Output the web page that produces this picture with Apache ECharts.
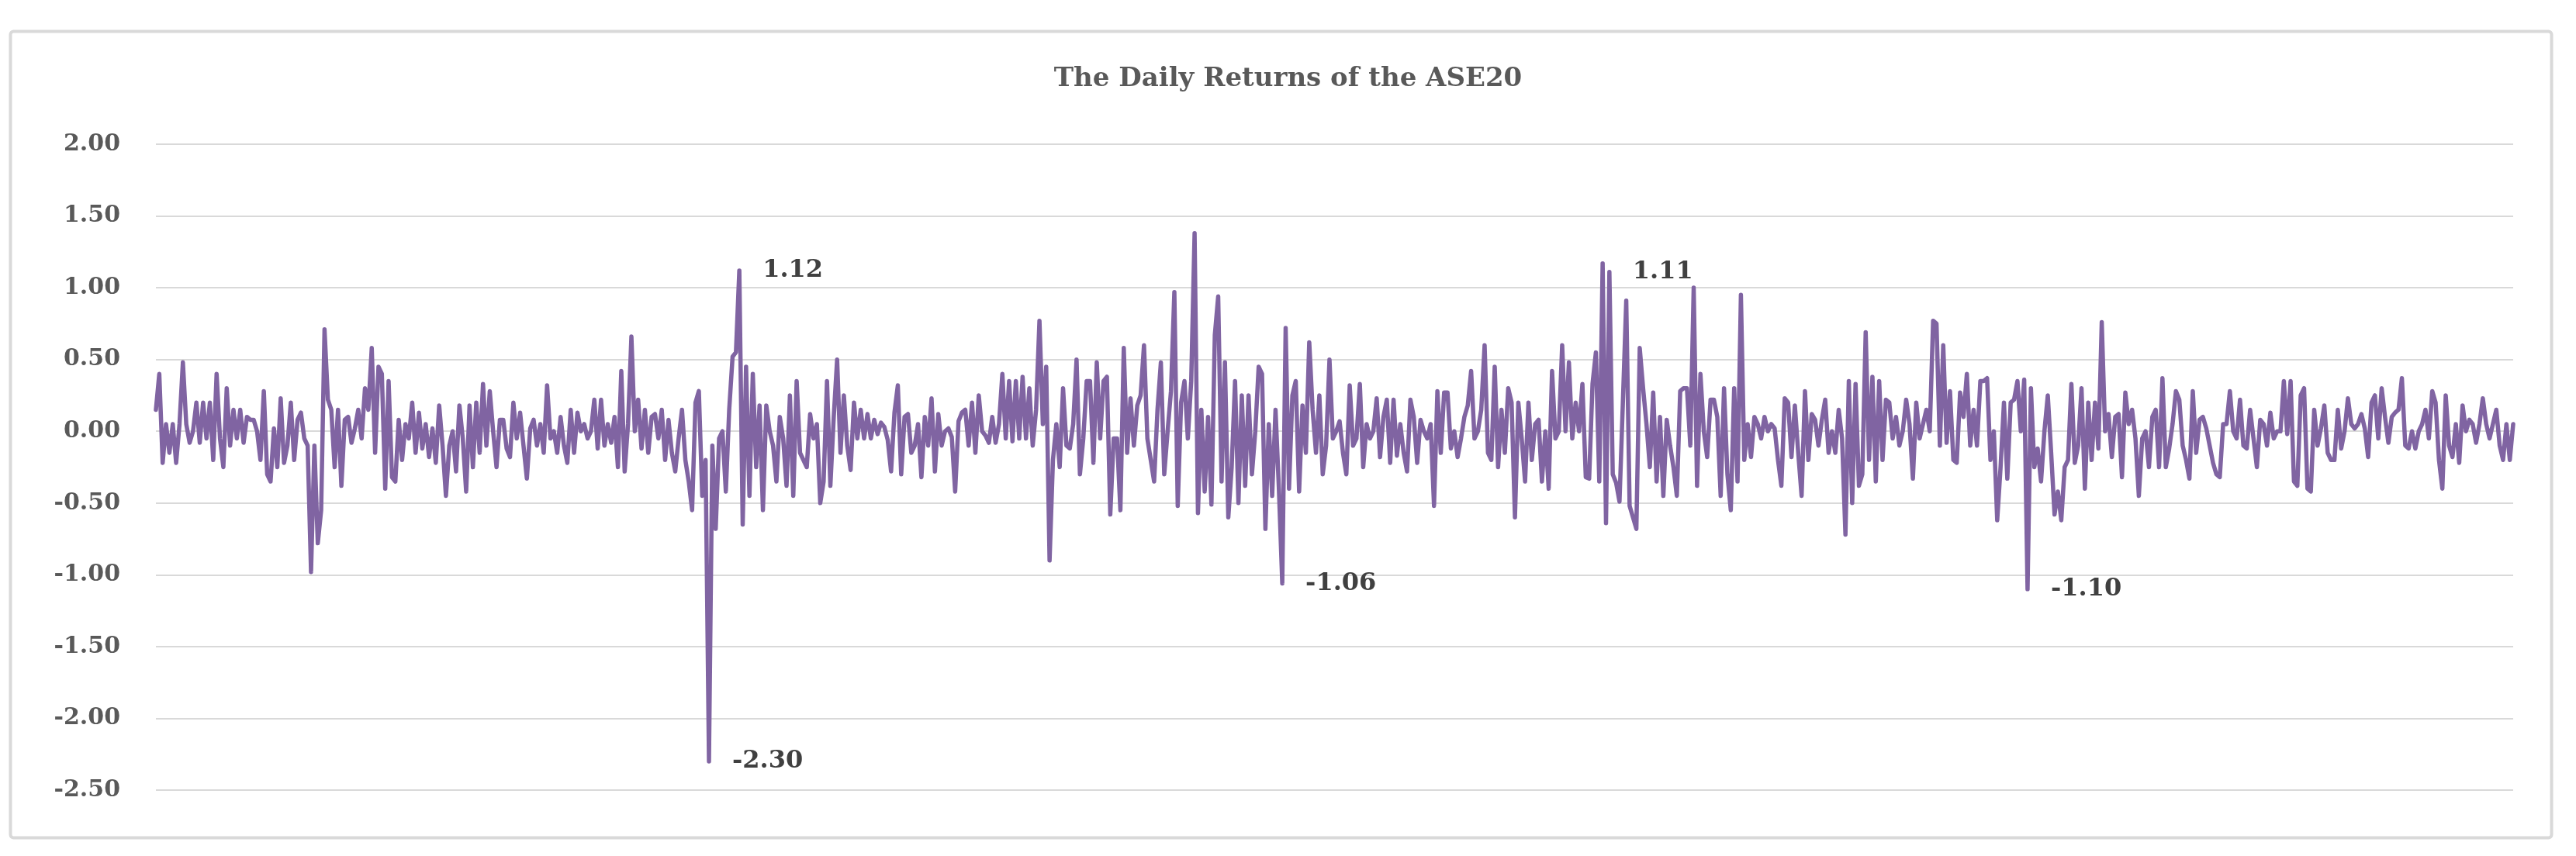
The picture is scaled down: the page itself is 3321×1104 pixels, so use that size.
<!DOCTYPE html>
<html>
<head>
<meta charset="utf-8">
<script src="https://cdn.jsdelivr.net/npm/echarts@6/dist/echarts.min.js"></script>
<style>
html,body{margin:0;padding:0;background:#fff;}
#chart{width:3321px;height:1104px;}
</style>
</head>
<body>
<div id="chart"></div>
<script>
// Daily returns of the ASE20 left to right, in eight stretches
const seg1 = [0.15,0.40,-0.22,0.05,-0.15,0.05,-0.22,0.05,0.48,0.05,-0.08,0.00,0.20,-0.08,0.20,-0.05,0.20,-0.20,0.40,-0.05,-0.25,0.30,-0.10,0.15,-0.05,0.15,-0.08,0.10,0.08,0.08,0.00,-0.20,0.28,-0.30,-0.35,0.02,-0.25,0.23,-0.22,-0.10,0.20,-0.20,0.08,0.13,-0.05,-0.10,-0.98,-0.10,-0.78,-0.55,0.71,0.22,0.15,-0.25,0.15,-0.38,0.08,0.10,-0.08,0.02,0.15,-0.05,0.30,0.15,0.58,-0.15,0.45,0.40,-0.40,0.35,-0.32,-0.35,0.08,-0.20,0.05,-0.05,0.20,-0.15,0.13,-0.12,0.05,-0.18,0.02,-0.22,0.18,-0.10,-0.45];
const seg2 = [-0.10,0.00,-0.28,0.18,-0.05,-0.42,0.18,-0.25,0.20,-0.15,0.33,-0.10,0.28,0.00,-0.25,0.08,0.08,-0.12,-0.18,0.20,-0.05,0.13,-0.10,-0.33,0.02,0.08,-0.10,0.05,-0.15,0.32,-0.05,0.00,-0.15,0.10,-0.10,-0.22,0.15,-0.15,0.13,0.00,0.05,-0.05,0.00,0.22,-0.12,0.22,-0.10,0.05,-0.08,0.10,-0.25,0.42,-0.28,0.05,0.66,0.00,0.22,-0.12,0.15,-0.15,0.10,0.12,-0.05,0.15,-0.20,0.08,-0.15,-0.28,-0.05,0.15,-0.20,-0.35,-0.55,0.20,0.28,-0.45,-0.20,-2.30,-0.10,-0.68,-0.05,0.00,-0.42,0.15,0.52,0.55,1.12];
const seg3 = [-0.65,0.45,-0.45,0.40,-0.25,0.18,-0.55,0.18,0.00,-0.10,-0.35,0.10,-0.05,-0.38,0.25,-0.45,0.35,-0.15,-0.20,-0.25,0.12,-0.05,0.05,-0.50,-0.35,0.35,-0.38,0.10,0.50,-0.15,0.25,-0.10,-0.27,0.20,-0.05,0.15,-0.05,0.12,-0.05,0.08,-0.02,0.06,0.03,-0.06,-0.28,0.13,0.32,-0.30,0.10,0.12,-0.15,-0.10,0.05,-0.32,0.10,-0.10,0.23,-0.28,0.12,-0.10,0.00,0.02,-0.04,-0.42,0.07,0.13,0.15,-0.10,0.20,-0.15,0.25,0.00,-0.03,-0.08,0.10,-0.08,0.05,0.40,-0.05,0.35,-0.07,0.35,-0.05,0.38,-0.05,0.30,-0.10,0.15,0.77,0.05,0.45];
const seg4 = [-0.90,-0.20,0.05,-0.25,0.30,-0.10,-0.12,0.05,0.50,-0.30,-0.05,0.35,0.35,-0.22,0.48,-0.05,0.35,0.38,-0.58,-0.05,-0.05,-0.55,0.58,-0.15,0.23,-0.10,0.18,0.25,0.60,-0.05,-0.20,-0.35,0.15,0.48,-0.30,0.00,0.28,0.97,-0.52,0.20,0.35,-0.05,0.35,1.38,-0.57,0.15,-0.42,0.10,-0.51,0.67,0.94,-0.35,0.48,-0.60,-0.25,0.35,-0.50,0.25,-0.38,0.25,-0.30,0.00,0.45,0.40,-0.68,0.05,-0.45,0.15,-0.40,-1.06,0.72,-0.40,0.25,0.35,-0.42,0.18,-0.15,0.62,0.15,-0.15,0.25,-0.30,-0.10,0.50,-0.05,0.00];
const seg5 = [0.07,-0.15,-0.30,0.32,-0.10,-0.05,0.33,-0.25,0.05,-0.05,0.00,0.23,-0.18,0.10,0.22,-0.22,0.22,-0.17,0.05,-0.15,-0.28,0.22,0.10,-0.22,0.08,0.00,-0.05,0.05,-0.52,0.28,-0.15,0.27,0.27,-0.12,0.00,-0.18,-0.05,0.10,0.18,0.42,-0.05,0.00,0.15,0.60,-0.15,-0.20,0.45,-0.25,0.15,-0.15,0.30,0.20,-0.60,0.20,-0.05,-0.35,0.20,-0.20,0.05,0.08,-0.35,0.00,-0.40,0.42,-0.05,0.00,0.60,0.00,0.48,-0.05,0.20,0.00,0.33,-0.32,-0.33,0.33,0.55,-0.35,1.17,-0.64,1.11,-0.30,-0.36,-0.49,0.20,0.91,-0.52];
const seg6 = [-0.60,-0.68,0.58,0.30,0.05,-0.25,0.27,-0.35,0.10,-0.45,0.08,-0.10,-0.25,-0.45,0.28,0.30,0.30,-0.10,1.00,-0.38,0.40,0.00,-0.18,0.22,0.22,0.10,-0.45,0.30,-0.30,-0.55,0.30,-0.35,0.95,-0.20,0.05,-0.18,0.10,0.05,-0.05,0.10,0.00,0.05,0.02,-0.20,-0.38,0.23,0.20,-0.18,0.18,-0.15,-0.45,0.28,-0.20,0.12,0.08,-0.10,0.08,0.22,-0.15,0.00,-0.15,0.15,-0.05,-0.72,0.35,-0.50,0.33,-0.38,-0.30,0.69,-0.20,0.38,-0.35,0.35,-0.20,0.22,0.20,-0.05,0.10,-0.10,0.00,0.22,0.05,-0.33,0.20,-0.05];
const seg7 = [0.05,0.15,0.00,0.77,0.75,-0.10,0.60,-0.08,0.28,-0.20,-0.22,0.27,0.10,0.40,-0.10,0.15,-0.10,0.35,0.35,0.37,-0.20,0.00,-0.62,-0.25,0.20,-0.33,0.20,0.22,0.35,0.00,0.36,-1.10,0.30,-0.25,-0.12,-0.35,0.00,0.25,-0.15,-0.58,-0.42,-0.62,-0.25,-0.20,0.33,-0.22,-0.10,0.30,-0.40,0.20,-0.20,0.20,-0.12,0.76,0.00,0.12,-0.18,0.10,0.12,-0.32,0.27,0.05,0.15,-0.05,-0.45,-0.05,0.00,-0.25,0.10,0.15,-0.25,0.37,-0.25,-0.12,0.05,0.28,0.22,-0.10,-0.20,-0.33,0.28,-0.15,0.08,0.10,0.02,-0.10,-0.22];
const seg8 = [-0.30,-0.32,0.05,0.05,0.28,0.00,-0.05,0.22,-0.10,-0.12,0.15,-0.05,-0.25,0.08,0.05,-0.10,0.13,-0.05,0.00,0.00,0.35,-0.02,0.35,-0.35,-0.38,0.25,0.30,-0.40,-0.42,0.15,-0.10,0.02,0.18,-0.15,-0.20,-0.20,0.15,-0.12,0.00,0.23,0.05,0.02,0.05,0.12,0.02,-0.18,0.20,0.25,-0.05,0.30,0.10,-0.08,0.10,0.13,0.15,0.37,-0.10,-0.12,0.00,-0.12,0.00,0.05,0.15,-0.05,0.28,0.20,-0.20,-0.40,0.25,-0.10,-0.18,0.05,-0.22,0.18,0.00,0.08,0.05,-0.08,0.05,0.23,0.05,-0.05,0.05,0.15,-0.10,-0.20,0.05,-0.20,0.05];

// Extreme values that carry a data label in the original
const labelledValues = [1.12, -2.30, -1.06, 1.11, -1.10];

const titleText = 'The Daily Returns of the ASE20';

const returns = [].concat(seg1, seg2, seg3, seg4, seg5, seg6, seg7, seg8);
const categories = returns.map((_, i) => String(i + 1));

const seriesData = returns.map(v => labelledValues.includes(v)
  ? { value: v, label: { show: true } }
  : v);

const chart = echarts.init(document.getElementById('chart'), null, { renderer: 'canvas' });
chart.setOption({
  animation: false,
  backgroundColor: '#ffffff',
  title: {
    text: titleText,
    left: 'center',
    top: 80,
    textStyle: { fontFamily: 'DejaVu Serif', fontWeight: 'bold', fontSize: 34, color: '#595959' }
  },
  graphic: [{
    type: 'rect',
    left: 11, top: 38,
    shape: { width: 3276, height: 1040, r: 4 },
    style: { fill: 'none', stroke: '#d9d9d9', lineWidth: 4 },
    z: -1
  }],
  grid: { left: 201, right: 81, top: 186, bottom: 85 },
  xAxis: {
    type: 'category',
    data: categories,
    boundaryGap: false,
    axisLine: { show: false },
    axisTick: { show: false },
    axisLabel: { show: false },
    splitLine: { show: false }
  },
  yAxis: {
    type: 'value',
    min: -2.5,
    max: 2.0,
    interval: 0.5,
    axisLine: { show: false },
    axisTick: { show: false },
    axisLabel: {
      formatter: v => v.toFixed(2),
      fontFamily: 'DejaVu Serif',
      fontWeight: 'bold',
      fontSize: 30,
      color: '#595959',
      margin: 46
    },
    splitLine: { lineStyle: { color: '#d9d9d9', width: 2 } }
  },
  series: [{
    type: 'line',
    data: seriesData,
    symbol: 'circle',
    symbolSize: 0,
    showSymbol: true,
    showAllSymbol: true,
    lineStyle: { color: '#8064a2', width: 5.5, join: 'round', cap: 'round' },
    itemStyle: { color: '#8064a2' },
    label: {
      show: false,
      position: 'right',
      distance: 30,
      formatter: p => Number(p.value).toFixed(2),
      fontFamily: 'DejaVu Serif',
      fontWeight: 'bold',
      fontSize: 32,
      color: '#404040'
    }
  }]
});
</script>
</body>
</html>
